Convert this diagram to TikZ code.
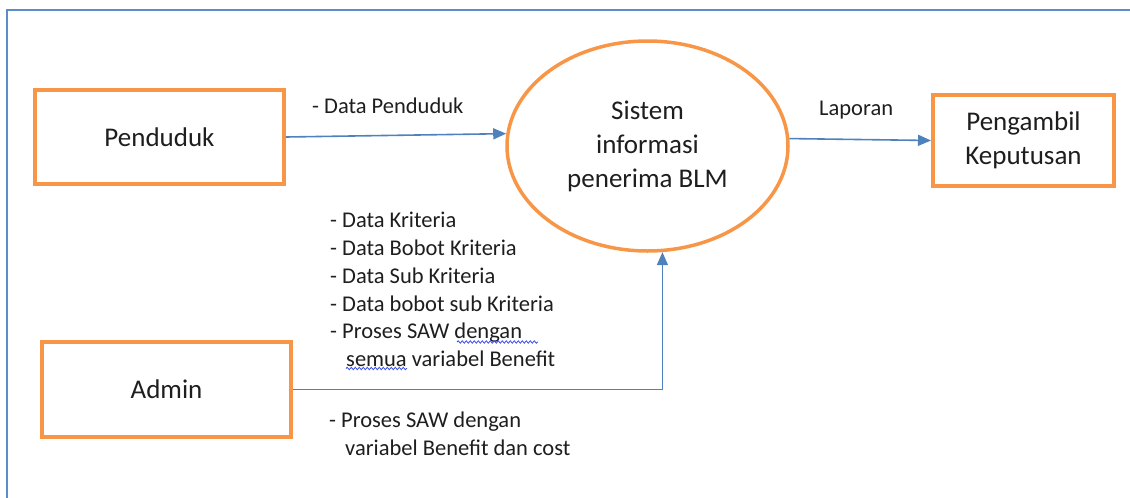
\documentclass[tikz,border=0pt]{standalone}
\usepackage{fontspec}
\setmainfont{Carlito}
\usetikzlibrary{shapes.geometric,arrows.meta,decorations.pathmorphing}

\definecolor{boxorange}{HTML}{F79646}
\definecolor{flowblue}{HTML}{4F81BD}
\definecolor{framblue}{HTML}{5B8CCB}
\definecolor{inkgray}{HTML}{1E1E1E}
\definecolor{spellblue}{HTML}{3A4FE0}

\tikzset{
  entity/.style={draw=boxorange, line width=4pt, inner sep=0pt,
    align=center, text=inkgray, font=\fontsize{27}{34}\selectfont},
  process/.style={ellipse, draw=boxorange, line width=3.5pt, inner sep=0pt,
    align=center, text=inkgray, font=\fontsize{27}{34}\selectfont},
  flow/.style={draw=flowblue, line width=1.6pt,
    -{Triangle[length=13pt,width=11pt]}},
  lbl/.style={anchor=base west, inner sep=0pt, text=inkgray,
    font=\fontsize{22.5}{27.7}\selectfont},
  spell/.style={draw=spellblue, line width=0.8pt,
    decorate, decoration={snake, segment length=4pt, amplitude=1.2pt}}
}

\begin{document}
\begin{tikzpicture}[x=1pt, y=-1pt]
  \useasboundingbox (0,0) rectangle (1130,498);

  % frame
  \draw[framblue, line width=2pt] (7,498) -- (7,10) -- (1130,10);

  % external entities and process
  \node[entity, minimum width=249pt, minimum height=94pt] (P) at (159.5,137) {Penduduk};
  \node[entity, minimum width=249pt, minimum height=95pt] (A) at (166.5,389.5) {Admin};
  \node[entity, minimum width=181pt, minimum height=91pt] (K) at (1023.5,140.5) {Pengambil\\Keputusan};
  \node[process, minimum width=281pt, minimum height=210pt] (S) at (647.5,146) {Sistem\\informasi\\penerima BLM};

  % data flows
  \draw[flow] (P.east) -- (S.175);
  \draw[flow] (S.3) -- (K.west);
  \draw[flow] (A.east) -| (S.-82);

  % flow labels
  \node[lbl] (lDP) at (312,113) {- Data Penduduk};
  \node[lbl] (lLap) at (819,115) {Laporan};

  \node[lbl] (l1) at (330,227) {- Data Kriteria};
  \node[lbl] (l2) at (330,255) {- Data Bobot Kriteria};
  \node[lbl] (l3) at (330,283) {- Data Sub Kriteria};
  \node[lbl] (l4) at (330,311) {- Data bobot sub Kriteria};
  \node[lbl] (l5) at (330,338) {- Proses SAW dengan};
  \node[lbl] (l6) at (346,366) {semua variabel Benefit};

  \node[lbl] (b1) at (329,427) {- Proses SAW dengan};
  \node[lbl] (b2) at (345,455) {variabel Benefit dan cost};

  % spelling marks under words
  \draw[spell] (457,342) -- (538,342);
  \draw[spell] (346,368.5) -- (407,368.5);
\end{tikzpicture}
\end{document}
